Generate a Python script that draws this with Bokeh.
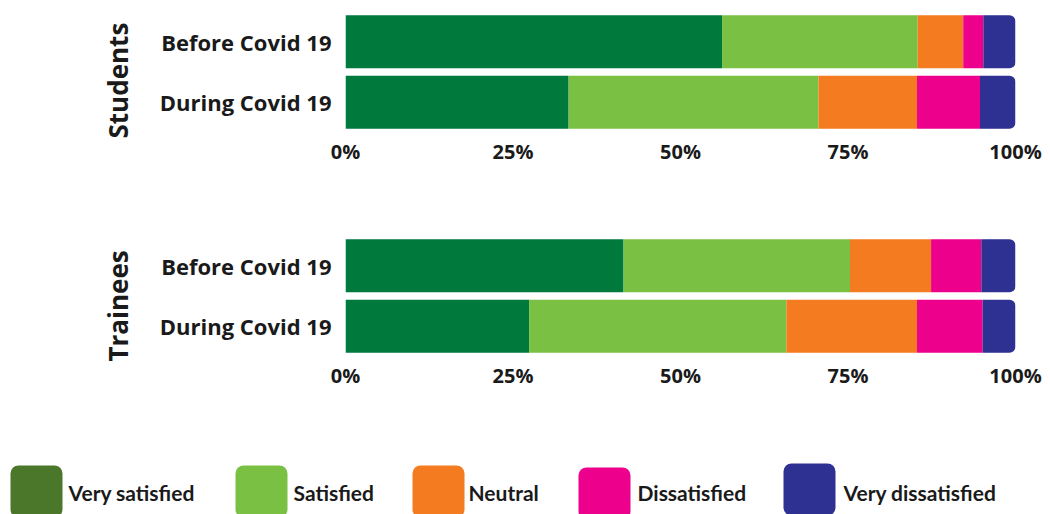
from bokeh.plotting import figure
from bokeh.layouts import column, row
from bokeh.models import Range1d, FixedTicker, Title, ColumnDataSource
from bokeh.core.properties import value
from bokeh.embed import file_html
from bokeh.resources import INLINE

# Satisfaction shares (%) per response category
categories = ["Very satisfied", "Satisfied", "Neutral", "Dissatisfied", "Very dissatisfied"]
periods = ["Before Covid 19", "During Covid 19"]
students_before = [56.2, 29.2, 6.8, 3.0, 4.8]
students_during = [33.3, 37.3, 14.7, 9.4, 5.3]
trainees_before = [41.5, 33.8, 12.1, 7.5, 5.1]
trainees_during = [27.4, 38.4, 19.5, 9.8, 4.9]
tick_values = [0, 25, 50, 75, 100]
tick_labels = ["0%", "25%", "50%", "75%", "100%"]

bar_colors = ["#00793D", "#7AC143", "#F47B20", "#EC008C", "#2E3192"]
legend_colors = ["#4A7729", "#7AC143", "#F47B20", "#EC008C", "#2E3192"]

TEXT = "#1a1a1a"
LABEL_FONT = "Open Sans"


def panel(group, before, during, height, top, bottom, right, title_offset):
    p = figure(width=1050, height=height,
               x_range=Range1d(0, 100), y_range=Range1d(-0.5, 1.5),
               output_backend="svg", toolbar_location=None,
               min_border_left=345, min_border_right=right,
               min_border_top=top, min_border_bottom=bottom)
    p.outline_line_color = None
    p.grid.visible = False
    p.background_fill_color = "white"
    p.border_fill_color = "white"

    rows = [before, during]
    ys = [1, 0]
    for i, cat in enumerate(categories):
        lefts = [sum(r[:i]) for r in rows]
        rights = [sum(r[:i + 1]) for r in rows]
        src = ColumnDataSource(dict(y=ys, left=lefts, right=rights))
        radius = (0, 6, 6, 0) if i == len(categories) - 1 else 0
        p.hbar(y="y", left="left", right="right", height=0.88, source=src,
               fill_color=bar_colors[i], line_color=None, border_radius=radius)

    xa = p.xaxis[0]
    xa.ticker = FixedTicker(ticks=tick_values)
    xa.major_label_overrides = {v: t for v, t in zip(tick_values, tick_labels)}
    xa.axis_line_color = None
    xa.major_tick_line_color = None
    xa.minor_tick_line_color = None
    xa.major_tick_out = 0
    xa.major_label_standoff = 5
    xa.major_label_text_font = LABEL_FONT
    xa.major_label_text_font_style = "bold"
    xa.major_label_text_font_size = "20px"
    xa.major_label_text_color = TEXT

    ya = p.yaxis[0]
    ya.ticker = FixedTicker(ticks=ys)
    ya.major_label_overrides = {y: name for y, name in zip(ys, periods)}
    ya.axis_line_color = None
    ya.major_tick_line_color = None
    ya.minor_tick_line_color = None
    ya.major_tick_out = 0
    ya.major_label_standoff = 14
    ya.major_label_text_font = LABEL_FONT
    ya.major_label_text_font_style = "bold"
    ya.major_label_text_font_size = "22px"
    ya.major_label_text_color = TEXT

    p.add_layout(Title(text=group, align="left", offset=title_offset, standoff=42,
                       text_font=LABEL_FONT, text_font_style="bold",
                       text_font_size="26px", text_color=TEXT), "left")
    return p


students = panel("Students", students_before, students_during,
                 height=200, top=11, bottom=68, right=32, title_offset=-6)
trainees = panel("Trainees", trainees_before, trainees_during,
                 height=240, top=35, bottom=84, right=35, title_offset=-5)

# Legend strip: rounded swatches with category names
leg = figure(width=1050, height=74, x_range=Range1d(0, 1050), y_range=Range1d(74, 0),
             output_backend="svg", toolbar_location=None,
             min_border_left=0, min_border_right=0, min_border_top=0, min_border_bottom=0)
leg.axis.visible = False
leg.grid.visible = False
leg.outline_line_color = None

swatch_left = [10, 235, 412, 578, 783]
swatch_top = [25, 25, 25, 27, 23]
label_left = [68, 293, 468, 637, 843]
SW = 52

leg.quad(left=swatch_left, right=[x + SW for x in swatch_left],
         top=swatch_top, bottom=[t + SW for t in swatch_top],
         fill_color=legend_colors, line_color=None, border_radius=8)
leg.text(x=label_left, y=[52] * len(categories), text=categories,
         text_font=value("Lato"), text_font_style="bold", text_font_size="21px",
         text_color=TEXT, text_baseline="middle", text_align="left")

layout = column(column(students, trainees, spacing=0), row(leg), spacing=0)

open("out.html", "w").write(file_html(layout, INLINE))
